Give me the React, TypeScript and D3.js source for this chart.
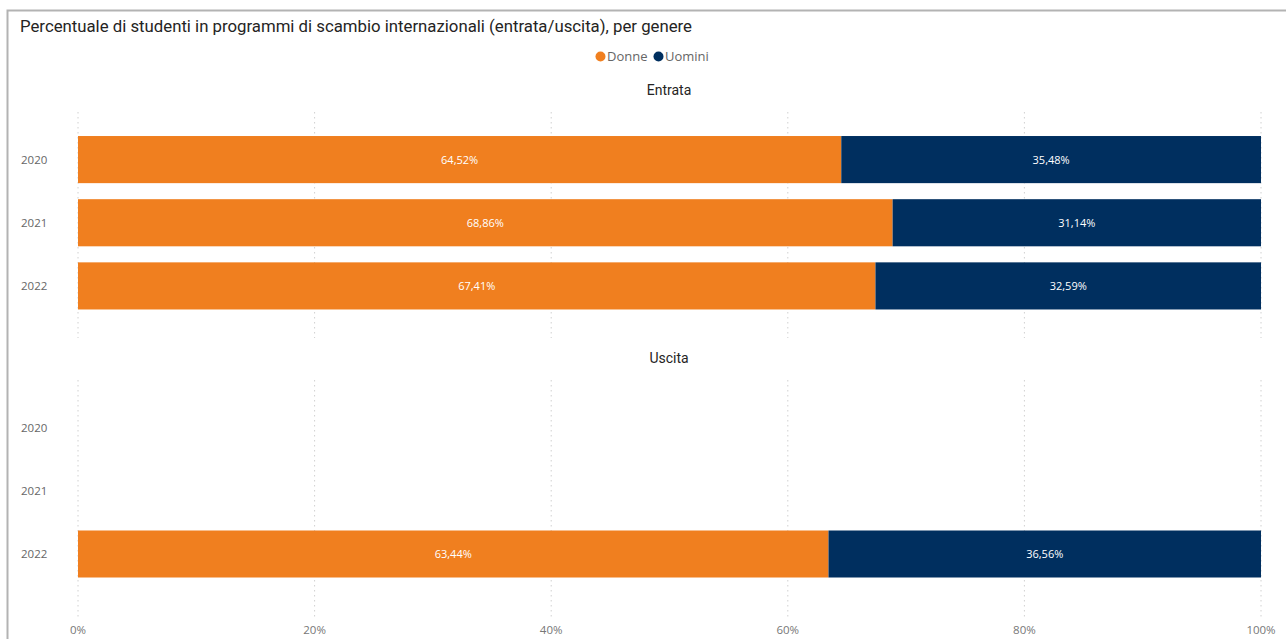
import React from "react";
import * as d3 from "d3";

const years = ["2020", "2021", "2022"];
const seriesNames = ["Donne", "Uomini"];
const seriesColors = ["#F07F1F", "#002F5F"];
const entrataDonne = [64.52, 68.86, 67.41];
const entrataUomini = [35.48, 31.14, 32.59];
const uscitaDonne: (number | null)[] = [null, null, 63.44];
const uscitaUomini: (number | null)[] = [null, null, 36.56];
const xTicks = [0, 20, 40, 60, 80, 100];
const title = "Percentuale di studenti in programmi di scambio internazionali (entrata/uscita), per genere";
const panelTitles = ["Entrata", "Uscita"];

const W = 1286, H = 639;
const fmt = (v: number) => v.toFixed(2).replace(".", ",") + "%";

function Panel({ name, donne, uomini, top, bottom, gridTop, gridBottom, titleY, x }: any) {
  const y = d3.scaleBand<string>().domain(years).range([top, bottom]).paddingInner(0.254).paddingOuter(0.127);
  return (
    <g>
      <text x={669} y={titleY} textAnchor="middle" fontFamily="Roboto, 'Open Sans', sans-serif" fontSize={14} fill="#252423">{name}</text>
      {xTicks.map((t) => (
        <line key={t} x1={x(t)} x2={x(t)} y1={gridTop} y2={gridBottom} stroke="#d0d0d0" strokeWidth={1} strokeDasharray="1.5,3.5" />
      ))}
      {years.map((yr, i) => (
        <text key={yr} x={21} y={(y(yr) as number) + y.bandwidth() / 2 + 4} fontFamily="'Open Sans', 'Noto Sans', sans-serif" fontSize={11.5} fill="#666">{yr}</text>
      ))}
      {years.map((yr, i) => {
        const d = donne[i];
        const u = uomini[i];
        if (d == null || u == null) return null;
        const yy = y(yr) as number;
        const h = y.bandwidth();
        return (
          <g key={yr}>
            <rect x={x(0)} y={yy} width={x(d) - x(0)} height={h} fill={seriesColors[0]} />
            <rect x={x(d)} y={yy} width={x(d + u) - x(d)} height={h} fill={seriesColors[1]} />
            <text x={(x(0) + x(d)) / 2} y={yy + h / 2 + 4} textAnchor="middle" fontFamily="'Open Sans', 'Noto Sans', sans-serif" fontSize={11} fill="#fff">{fmt(d)}</text>
            <text x={(x(d) + x(d + u)) / 2} y={yy + h / 2 + 4} textAnchor="middle" fontFamily="'Open Sans', 'Noto Sans', sans-serif" fontSize={11} fill="#fff">{fmt(u)}</text>
          </g>
        );
      })}
    </g>
  );
}

export default function App() {
  const x = d3.scaleLinear().domain([0, 100]).range([78, 1261]);
  return (
    <svg width={W} height={H} style={{ position: "absolute", left: 0, top: 0, background: "#fff" }}>
      <rect x={0} y={0} width={W} height={H} fill="#fff" />
      <rect x={7.5} y={10.5} width={W + 20} height={H + 20} fill="none" stroke="#b3b3b3" strokeWidth={2} />
      <text x={20} y={32} fontFamily="Roboto, 'DejaVu Sans', sans-serif" fontSize={16} fill="#252423" textLength={672} lengthAdjust="spacingAndGlyphs">{title}</text>
      <g fontFamily="'Open Sans', 'Noto Sans', sans-serif" fontSize={13} fill="#666">
        <circle cx={600.5} cy={56.5} r={5} fill={seriesColors[0]} />
        <text x={607} y={61}>{seriesNames[0]}</text>
        <circle cx={658.5} cy={56.5} r={5} fill={seriesColors[1]} />
        <text x={665} y={61}>{seriesNames[1]}</text>
      </g>
      <Panel name={panelTitles[0]} donne={entrataDonne} uomini={entrataUomini} top={128} bottom={317.5} gridTop={112} gridBottom={338} titleY={95} x={x} />
      <Panel name={panelTitles[1]} donne={uscitaDonne} uomini={uscitaUomini} top={396.5} bottom={585.5} gridTop={380} gridBottom={617} titleY={363} x={x} />
      {xTicks.map((t) => (
        <text key={t} x={x(t)} y={634} textAnchor="middle" fontFamily="'Open Sans', 'Noto Sans', sans-serif" fontSize={11.5} fill="#777">{t + "%"}</text>
      ))}
    </svg>
  );
}
